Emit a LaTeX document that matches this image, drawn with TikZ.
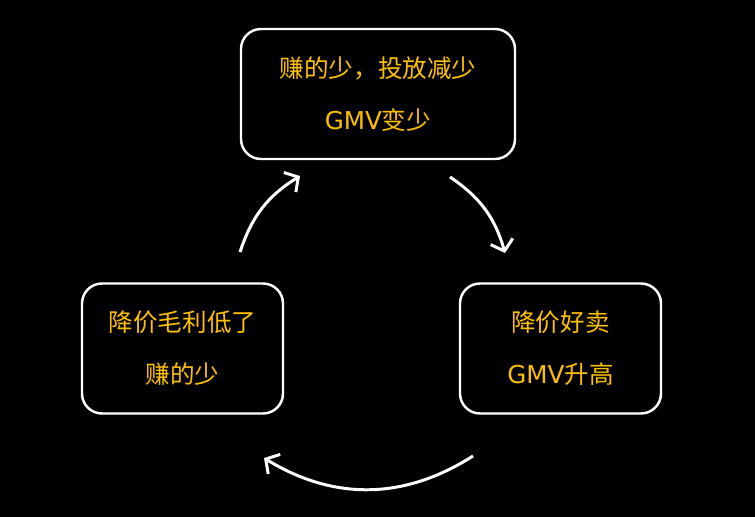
\documentclass[tikz,border=0pt]{standalone}
\usepackage{fontspec}
\setmainfont{Noto Sans CJK SC}
\newfontfamily\latin{DejaVu Sans}
\usetikzlibrary{arrows.meta,positioning}

\definecolor{gold}{HTML}{FFC000}

\begin{document}
\begin{tikzpicture}

\tikzstyle{loopbox}=[draw=white,line width=1.4pt,rounded corners=0.4cm,
  text=gold,align=center,minimum height=2.6cm,
  font=\fontsize{14}{29.6}\selectfont]
\tikzstyle{loopline}=[draw=white,line width=1.7pt,
  -{Straight Barb[length=2mm,width=4.6mm]}]

\fill [black] (0,0) rectangle (15.1,-10.34);

\node [loopbox,minimum width=5.48cm] (less) at (7.56,-1.88) {赚的少，投放减少\\{\latin GMV}变少};
\node [loopbox,minimum width=4.02cm] (sell) at (11.21,-6.97) {降价好卖\\{\latin GMV}升高};
\node [loopbox,minimum width=4.02cm] (cut) at (3.65,-6.97) {降价毛利低了\\赚的少};

\coordinate (a1) at (4.8,-5.04);
\coordinate (b1) at (6.0,-3.52);
\coordinate (a2) at (9.0,-3.54);
\coordinate (b2) at (10.1,-5.06);
\coordinate (a3) at (9.46,-9.12);
\coordinate (b3) at (5.28,-9.16);

\path (a1) edge [loopline,bend left=20] (b1)
      (a2) edge [loopline,bend left=20] (b2)
      (a3) edge [loopline,bend left=32] (b3);

\end{tikzpicture}
\end{document}
